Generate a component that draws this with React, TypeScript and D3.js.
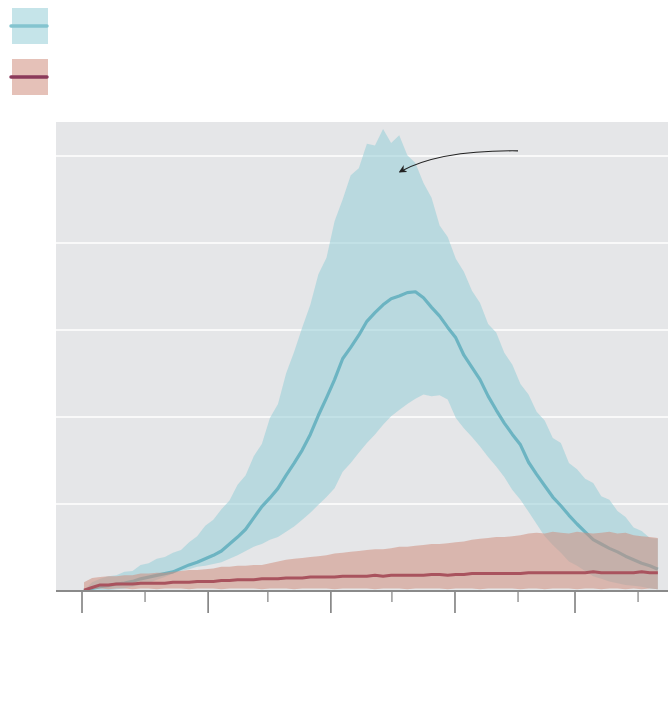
import React from "react";
import * as d3 from "d3";

// day index (0 = first major tick), step 2 days
const days: number[] = Array.from({ length: 72 }, (_, i) => 0.5 + i * 2);

const tealMean: number[] = [
  0.0, 0.03, 0.05, 0.06, 0.08, 0.09, 0.11, 0.14, 0.16, 0.18,
  0.2, 0.22, 0.26, 0.3, 0.33, 0.37, 0.41, 0.46, 0.54, 0.62,
  0.71, 0.84, 0.97, 1.07, 1.18, 1.33, 1.47, 1.62, 1.8, 2.02,
  2.22, 2.43, 2.67, 2.8, 2.94, 3.1, 3.2, 3.29, 3.36, 3.39,
  3.43, 3.44, 3.37, 3.26, 3.16, 3.03, 2.91, 2.71, 2.57, 2.43,
  2.24, 2.08, 1.93, 1.8, 1.68, 1.48, 1.34, 1.21, 1.08, 0.98,
  0.87, 0.77, 0.68, 0.59, 0.54, 0.49, 0.45, 0.4, 0.36, 0.32,
  0.29, 0.25,
];

const tealHi: number[] = [
  0.01, 0.1, 0.14, 0.17, 0.18, 0.22, 0.23, 0.3, 0.32, 0.37,
  0.39, 0.44, 0.47, 0.56, 0.63, 0.75, 0.82, 0.94, 1.04, 1.22,
  1.33, 1.55, 1.69, 1.99, 2.15, 2.5, 2.75, 3.03, 3.29, 3.64,
  3.83, 4.25, 4.5, 4.78, 4.86, 5.14, 5.12, 5.31, 5.15, 5.24,
  5.01, 4.92, 4.69, 4.52, 4.2, 4.07, 3.82, 3.67, 3.45, 3.31,
  3.07, 2.97, 2.74, 2.6, 2.38, 2.26, 2.06, 1.96, 1.76, 1.7,
  1.47, 1.4, 1.29, 1.24, 1.09, 1.05, 0.92, 0.85, 0.73, 0.69,
  0.61, 0.6,
];

const tealLo: number[] = [
  0.0, 0.0, 0.01, 0.01, 0.02, 0.03, 0.05, 0.07, 0.09, 0.13,
  0.16, 0.2, 0.23, 0.25, 0.28, 0.29, 0.31, 0.33, 0.37, 0.41,
  0.46, 0.51, 0.54, 0.59, 0.62, 0.68, 0.74, 0.82, 0.9, 0.99,
  1.08, 1.18, 1.37, 1.47, 1.59, 1.7, 1.8, 1.91, 2.01, 2.08,
  2.15, 2.21, 2.26, 2.24, 2.25, 2.2, 1.99, 1.87, 1.77, 1.66,
  1.54, 1.43, 1.31, 1.16, 1.05, 0.91, 0.77, 0.63, 0.53, 0.44,
  0.34, 0.29, 0.23, 0.17, 0.14, 0.11, 0.09, 0.07, 0.06, 0.05,
  0.03, 0.02,
];

const redMean: number[] = [
  0.01, 0.04, 0.07, 0.07, 0.08, 0.08, 0.08, 0.09, 0.09, 0.09,
  0.09, 0.1, 0.1, 0.1, 0.11, 0.11, 0.11, 0.12, 0.12, 0.13,
  0.13, 0.13, 0.14, 0.14, 0.14, 0.15, 0.15, 0.15, 0.16, 0.16,
  0.16, 0.16, 0.17, 0.17, 0.17, 0.17, 0.18, 0.17, 0.18, 0.18,
  0.18, 0.18, 0.18, 0.19, 0.19, 0.18, 0.19, 0.19, 0.2, 0.2,
  0.2, 0.2, 0.2, 0.2, 0.2, 0.21, 0.21, 0.21, 0.21, 0.21,
  0.21, 0.21, 0.21, 0.22, 0.21, 0.21, 0.21, 0.21, 0.21, 0.22,
  0.21, 0.21,
];

const redHi: number[] = [
  0.1, 0.15, 0.16, 0.17, 0.17, 0.18, 0.18, 0.2, 0.2, 0.21,
  0.21, 0.22, 0.23, 0.24, 0.24, 0.25, 0.26, 0.28, 0.28, 0.29,
  0.29, 0.3, 0.3, 0.32, 0.34, 0.36, 0.37, 0.38, 0.39, 0.4,
  0.41, 0.43, 0.44, 0.45, 0.46, 0.47, 0.48, 0.48, 0.49, 0.51,
  0.51, 0.52, 0.53, 0.54, 0.54, 0.55, 0.56, 0.57, 0.59, 0.6,
  0.61, 0.62, 0.62, 0.63, 0.64, 0.66, 0.67, 0.66, 0.68, 0.67,
  0.66, 0.68, 0.67, 0.66, 0.67, 0.68, 0.66, 0.67, 0.64, 0.63,
  0.62, 0.61,
];

const redLo: number[] = [
  0.0, 0.02, 0.03, 0.02, 0.03, 0.03, 0.02, 0.03, 0.03, 0.02,
  0.03, 0.03, 0.03, 0.02, 0.03, 0.03, 0.03, 0.02, 0.03, 0.03,
  0.03, 0.03, 0.02, 0.03, 0.03, 0.03, 0.02, 0.03, 0.03, 0.03,
  0.03, 0.02, 0.03, 0.03, 0.03, 0.03, 0.02, 0.03, 0.03, 0.03,
  0.02, 0.03, 0.03, 0.03, 0.03, 0.02, 0.03, 0.03, 0.03, 0.02,
  0.03, 0.03, 0.03, 0.03, 0.02, 0.03, 0.03, 0.02, 0.03, 0.03,
  0.03, 0.02, 0.03, 0.03, 0.02, 0.03, 0.03, 0.02, 0.03, 0.02,
  0.03, 0.02,
];

const yGrid: number[] = [1, 2, 3, 4, 5];
const majorTicks: number[] = [0, 31.2, 61.6, 92.3, 122];
const minorTicks: number[] = [15.6, 46, 76.7, 107.9, 137.6];

// annotation arrow, in data coordinates (start, control, end)
const arrowFrom: [number, number] = [107.9, 5.06];
const arrowCtrl: [number, number] = [88.5, 5.07];
const arrowTo: [number, number] = [78.7, 4.82];

const W = 670;
const H = 706;
const plot = { left: 56, right: 668, top: 122, bottom: 591 };

const TEAL_FILL = "#96cdd7";
const TEAL_LINE = "#6cb4c2";
const RED_FILL = "#d08e7e";
const RED_LINE = "#a9535e";
const LEGEND_RED_LINE = "#8b3a5a";
const LEGEND_TEAL_LINE = "#84c4cf";

export default function App() {
  const x = d3.scaleLinear().domain([-6.434, 145.01]).range([plot.left, plot.right]);
  const y = d3.scaleLinear().domain([0, 5.391]).range([plot.bottom, plot.top]);

  const area = (lo: number[], hi: number[]) =>
    d3
      .area<number>()
      .x((d) => x(d))
      .y0((_, i) => y(lo[i]))
      .y1((_, i) => y(hi[i]))
      .curve(d3.curveLinear)(days) as string;

  const line = (vals: number[]) =>
    d3
      .line<number>()
      .x((d) => x(d))
      .y((_, i) => y(vals[i]))
      .curve(d3.curveLinear)(days) as string;

  const arrowPath = `M${x(arrowFrom[0])},${y(arrowFrom[1])} Q${x(arrowCtrl[0])},${y(arrowCtrl[1])} ${x(arrowTo[0])},${y(arrowTo[1])}`;

  return (
    <svg
      width={W}
      height={H}
      style={{ position: "absolute", left: 0, top: 0, background: "#fff" }}
    >
      <defs>
        <marker
          id="arrowhead"
          viewBox="0 0 10 10"
          refX="8"
          refY="5"
          markerWidth="8"
          markerHeight="8"
          orient="auto-start-reverse"
          markerUnits="userSpaceOnUse"
        >
          <path d="M0,0 L10,5 L0,10 L3,5 Z" fill="#222" />
        </marker>
        <clipPath id="plotclip">
          <rect x={plot.left} y={plot.top} width={plot.right - plot.left} height={plot.bottom - plot.top} />
        </clipPath>
      </defs>

      {/* legend */}
      <g>
        <rect x={12} y={8} width={36} height={36} fill={TEAL_FILL} opacity={0.55} />
        <line x1={11} x2={47} y1={26} y2={26} stroke={LEGEND_TEAL_LINE} strokeWidth={3.5} strokeLinecap="round" />
        <rect x={12} y={59} width={36} height={36} fill={RED_FILL} opacity={0.55} />
        <line x1={11} x2={47} y1={77} y2={77} stroke={LEGEND_RED_LINE} strokeWidth={3.5} strokeLinecap="round" />
      </g>

      {/* plot background */}
      <rect
        x={plot.left}
        y={plot.top}
        width={plot.right - plot.left}
        height={plot.bottom - plot.top}
        fill="#e5e6e8"
      />
      {yGrid.map((g) => (
        <line
          key={g}
          x1={plot.left}
          x2={plot.right}
          y1={y(g)}
          y2={y(g)}
          stroke="#ffffff"
          strokeWidth={1.3}
        />
      ))}

      <g clipPath="url(#plotclip)">
        <path d={area(tealLo, tealHi)} fill={TEAL_FILL} fillOpacity={0.55} />
        <path
          d={line(tealMean)}
          fill="none"
          stroke={TEAL_LINE}
          strokeWidth={3.2}
          strokeLinejoin="round"
        />
        <path d={area(redLo, redHi)} fill={RED_FILL} fillOpacity={0.55} />
        <path
          d={line(redMean)}
          fill="none"
          stroke={RED_LINE}
          strokeWidth={3}
          strokeLinejoin="round"
        />
      </g>

      {/* x axis */}
      <line x1={plot.left} x2={plot.right} y1={plot.bottom} y2={plot.bottom} stroke="#8a8a8a" strokeWidth={2} />
      {majorTicks.map((t) => (
        <line key={"M" + t} x1={x(t)} x2={x(t)} y1={plot.bottom + 1} y2={plot.bottom + 22} stroke="#333" strokeWidth={1} />
      ))}
      {minorTicks.map((t) => (
        <line key={"m" + t} x1={x(t)} x2={x(t)} y1={plot.bottom + 1} y2={plot.bottom + 11} stroke="#666" strokeWidth={1} />
      ))}

      {/* annotation arrow */}
      <path d={arrowPath} fill="none" stroke="#222" strokeWidth={1.2} markerEnd="url(#arrowhead)" />
    </svg>
  );
}
